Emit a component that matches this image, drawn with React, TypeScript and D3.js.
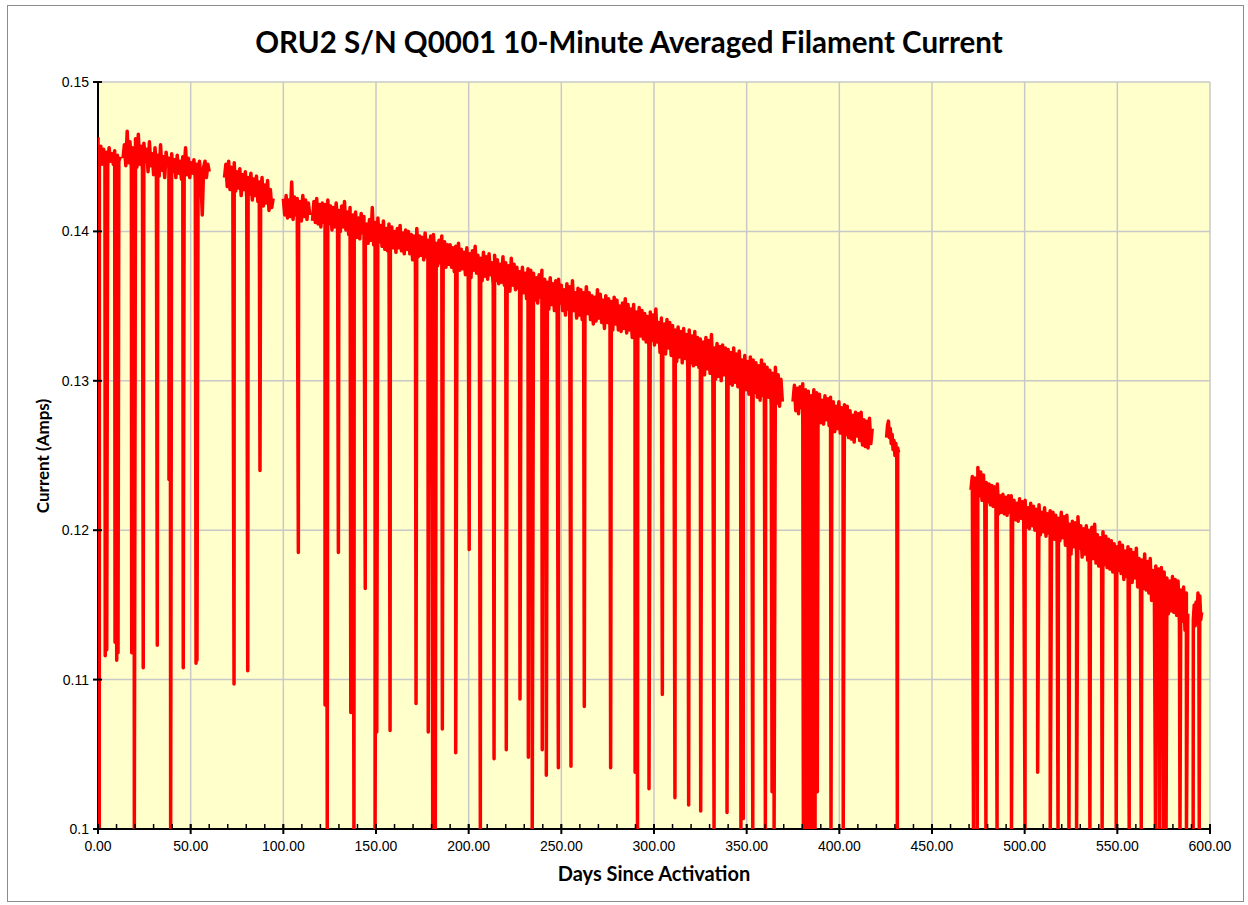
import React, { useEffect, useRef } from 'react';
import * as d3 from 'd3';

// axis ticks
const xTicks = [0, 50, 100, 150, 200, 250, 300, 350, 400, 450, 500, 550, 600];
const xTickLabels = ['0.00', '50.00', '100.00', '150.00', '200.00', '250.00', '300.00', '350.00', '400.00', '450.00', '500.00', '550.00', '600.00'];
const xMinorTicks = d3.range(0, 601, 10);
const yTicks = [0.1, 0.11, 0.12, 0.13, 0.14, 0.15];
const yTickLabels = ['0.1', '0.11', '0.12', '0.13', '0.14', '0.15'];

// filament current (amps), one reading every segSteps[k] days from segStarts[k]
const segA = [
  0.1463, 0.1450, 0.1457, 0.1445, 0.1455, 0.1448, 0.1453, 0.1444, 0.1456, 0.1447,
  0.1452, 0.1445, 0.1454, 0.1446, 0.1451, 0.1447, 0.1450, null, 0.1449, 0.1458,
  0.1444, 0.1467, 0.1446, 0.1460, 0.1442, 0.1456, 0.1448, 0.1462, 0.1443, 0.1465,
  0.1445, 0.1457, 0.1441, 0.1459, 0.1447, 0.1455, 0.1440, 0.1460, 0.1444, 0.1452,
  0.1438, 0.1456, 0.1443, 0.1451, 0.1437, 0.1458, 0.1441, 0.1450, 0.1436, 0.1453,
  0.1444, 0.1449, 0.1437, 0.1452, 0.1440, 0.1448, 0.1436, 0.1451, 0.1439, 0.1447,
  0.1435, 0.1450, 0.1441, 0.1456, 0.1438, 0.1449, 0.1436, 0.1446, 0.1439, 0.1448,
  0.1435, 0.1445, 0.1437, 0.1447, 0.1436, 0.1411, 0.1443, 0.1447, 0.1436, 0.1445,
  0.1440];
const segB = [
  0.1436, 0.1445, 0.1430, 0.1447, 0.1428, 0.1443, 0.1432, 0.1446, 0.1427, 0.1440,
  0.1429, 0.1442, 0.1424, 0.1438, 0.1428, 0.1440, 0.1423, 0.1436, 0.1425, 0.1439,
  0.1421, 0.1435, 0.1424, 0.1437, 0.1420, 0.1433, 0.1422, 0.1436, 0.1417, 0.1431,
  0.1419, 0.1434, 0.1414, 0.1428, 0.1416, 0.1422];
const segC = [
  0.1422, 0.1411, 0.1424, 0.1409, 0.1421, 0.1410, 0.1433, 0.1408, 0.1423, 0.1411,
  0.1422, 0.1409, 0.1420, 0.1407, 0.1424, 0.1410, 0.1421, 0.1408, 0.1419, 0.1411,
  null, 0.1407, 0.1420, 0.1406, 0.1422, 0.1405, 0.1418, 0.1403, 0.1419, 0.1406,
  0.1418, 0.1404, 0.1421, 0.1405, 0.1417, 0.1401, 0.1416, 0.1403, 0.1419, 0.1406,
  0.1414, 0.1400, 0.1417, 0.1403, 0.1420, 0.1401, 0.1413, 0.1398, 0.1416, 0.1402,
  0.1411, 0.1398, 0.1413, 0.1396, 0.1409, 0.1395, 0.1412, 0.1399, 0.1410, 0.1394,
  0.1405, 0.1392, 0.1408, 0.1394, 0.1416, 0.1391, 0.1406, 0.1390, 0.1409, 0.1393,
  0.1404, 0.1390, 0.1407, 0.1388, 0.1402, 0.1387, 0.1405, 0.1391, 0.1403, 0.1389,
  0.1400, 0.1386, 0.1402, 0.1389, 0.1404, 0.1387, 0.1399, 0.1385, 0.1401, 0.1388,
  0.1400, 0.1385, 0.1398, 0.1381, 0.1397, 0.1386, 0.1402, 0.1383, 0.1397, 0.1384,
  0.1396, 0.1381, 0.1399, 0.1383, 0.1394, 0.1380, 0.1397, 0.1384, 0.1398, 0.1382,
  0.1392, 0.1377, 0.1394, 0.1379, 0.1397, 0.1380, 0.1393, 0.1376, 0.1391, 0.1378,
  0.1391, 0.1376, 0.1389, 0.1373, 0.1390, 0.1377, 0.1392, 0.1374, 0.1388, 0.1375,
  0.1386, 0.1371, 0.1389, 0.1373, 0.1385, 0.1369, 0.1387, 0.1374, 0.1390, 0.1372,
  0.1384, 0.1369, 0.1382, 0.1367, 0.1386, 0.1370, 0.1383, 0.1368, 0.1385, 0.1371,
  0.1379, 0.1364, 0.1384, 0.1367, 0.1381, 0.1365, 0.1378, 0.1366, 0.1383, 0.1364,
  0.1379, 0.1363, 0.1377, 0.1360, 0.1382, 0.1364, 0.1378, 0.1361, 0.1376, 0.1362,
  0.1373, 0.1357, 0.1376, 0.1359, 0.1372, 0.1355, 0.1375, 0.1360, 0.1374, 0.1356,
  0.1372, 0.1354, 0.1369, 0.1352, 0.1371, 0.1356, 0.1374, 0.1353, 0.1368, 0.1354,
  0.1366, 0.1348, 0.1369, 0.1351, 0.1365, 0.1347, 0.1367, 0.1350, 0.1368, 0.1352,
  0.1364, 0.1347, 0.1361, 0.1344, 0.1365, 0.1348, 0.1363, 0.1345, 0.1367, 0.1347,
  0.1359, 0.1342, 0.1362, 0.1344, 0.1361, 0.1341, 0.1359, 0.1343, 0.1363, 0.1345,
  0.1359, 0.1341, 0.1357, 0.1338, 0.1356, 0.1340, 0.1361, 0.1342, 0.1358, 0.1339,
  0.1354, 0.1335, 0.1357, 0.1339, 0.1355, 0.1336, 0.1353, 0.1334, 0.1356, 0.1338,
  0.1354, 0.1334, 0.1350, 0.1333, 0.1352, 0.1335, 0.1355, 0.1332, 0.1351, 0.1334,
  0.1348, 0.1329, 0.1351, 0.1331, 0.1346, 0.1327, 0.1349, 0.1330, 0.1347, 0.1328,
  0.1345, 0.1326, 0.1343, 0.1323, 0.1346, 0.1327, 0.1344, 0.1324, 0.1348, 0.1326,
  0.1339, 0.1319, 0.1342, 0.1321, 0.1338, 0.1318, 0.1341, 0.1322, 0.1339, 0.1317,
  0.1337, 0.1315, 0.1334, 0.1313, 0.1336, 0.1316, 0.1333, 0.1312, 0.1335, 0.1315,
  0.1331, 0.1309, 0.1334, 0.1312, 0.1330, 0.1310, 0.1333, 0.1311, 0.1329, 0.1309,
  0.1328, 0.1307, 0.1326, 0.1304, 0.1329, 0.1308, 0.1327, 0.1305, 0.1331, 0.1307,
  0.1322, 0.1301, 0.1325, 0.1303, 0.1323, 0.1300, 0.1324, 0.1304, 0.1322, 0.1302,
  0.1321, 0.1298, 0.1319, 0.1297, 0.1322, 0.1299, 0.1318, 0.1296, 0.1320, 0.1300,
  0.1314, 0.1292, 0.1317, 0.1294, 0.1313, 0.1291, 0.1316, 0.1293, 0.1314, 0.1292,
  0.1312, 0.1289, 0.1310, 0.1287, 0.1314, 0.1290, 0.1311, 0.1288, 0.1309, 0.1289,
  0.1307, 0.1284, 0.1305, 0.1286, 0.1309, 0.1285, 0.1304, 0.1283, 0.1301, 0.1286];
const segD = [
  0.1286, 0.1297, 0.1280, 0.1295, 0.1278, 0.1296, 0.1282, 0.1298, 0.1279, 0.1294,
  0.1277, 0.1293, 0.1275, 0.1290, 0.1276, 0.1294, 0.1278, 0.1292, 0.1274, 0.1291,
  0.1272, 0.1287, 0.1271, 0.1290, 0.1274, 0.1288, 0.1270, 0.1289, 0.1273, 0.1286,
  0.1266, 0.1283, 0.1268, 0.1286, 0.1265, 0.1282, 0.1267, 0.1284, 0.1264, 0.1283,
  0.1262, 0.1280, 0.1261, 0.1277, 0.1259, 0.1279, 0.1263, 0.1278, 0.1260, 0.1279,
  0.1257, 0.1274, 0.1256, 0.1273, 0.1255, 0.1275, 0.1258, 0.1268];
const segE = [
  0.1262, 0.1270, 0.1273, 0.1262, 0.1268, 0.1258, 0.1264, 0.1254, 0.1260, 0.1250,
  0.1258, 0.1248, 0.1255, 0.1252];
const segF = [
  0.1227, 0.1236, 0.1222, 0.1235, 0.1221, 0.1242, 0.1223, 0.1239, 0.1220, 0.1237,
  0.1218, 0.1232, 0.1219, 0.1231, 0.1217, 0.1230, 0.1216, 0.1229, 0.1218, 0.1231,
  0.1211, 0.1223, 0.1212, 0.1224, 0.1211, 0.1222, 0.1210, 0.1223, 0.1212, 0.1223,
  0.1208, 0.1220, 0.1207, 0.1218, 0.1206, 0.1221, 0.1208, 0.1219, 0.1205, 0.1220,
  0.1202, 0.1215, 0.1201, 0.1218, 0.1203, 0.1216, 0.1200, 0.1214, 0.1202, 0.1217,
  0.1197, 0.1212, 0.1199, 0.1215, 0.1196, 0.1211, 0.1198, 0.1213, 0.1195, 0.1212,
  0.1194, 0.1210, 0.1191, 0.1208, 0.1193, 0.1212, 0.1195, 0.1209, 0.1190, 0.1210,
  0.1187, 0.1204, 0.1184, 0.1206, 0.1189, 0.1205, 0.1185, 0.1209, 0.1188, 0.1203,
  0.1182, 0.1201, 0.1184, 0.1203, 0.1180, 0.1200, 0.1183, 0.1202, 0.1181, 0.1204,
  0.1178, 0.1197, 0.1176, 0.1195, 0.1179, 0.1199, 0.1177, 0.1196, 0.1175, 0.1194,
  0.1174, 0.1193, 0.1172, 0.1191, 0.1170, 0.1189, 0.1173, 0.1192, 0.1171, 0.1190,
  0.1167, 0.1186, 0.1169, 0.1189, 0.1166, 0.1187, 0.1165, 0.1185, 0.1168, 0.1188,
  0.1162, 0.1181, 0.1159, 0.1180, 0.1161, 0.1184, 0.1160, 0.1179, 0.1158, 0.1181,
  0.1153, 0.1173, 0.1154, 0.1176, 0.1151, 0.1174, 0.1155, 0.1175, 0.1152, 0.1172,
  0.1147, 0.1168, 0.1144, 0.1166, 0.1146, 0.1169, 0.1145, 0.1167, 0.1143, 0.1166,
  0.1138, 0.1160, 0.1139, 0.1162, 0.1133, 0.1158, 0.1144];
const segG = [0.1140, 0.1150, 0.1136, 0.1152, 0.1138, 0.1158, 0.1135, 0.1156, 0.1140, 0.1145];

const segStarts = [0, 68.25, 100, 375, 425.5, 471, 591];
const segSteps = [0.75, 0.75, 0.75, 0.75, 0.5, 0.75, 0.5];

// short drop-outs: [day, amps at the bottom of the drop]
const dips = [
  [0.7, 0.1], [3.9, 0.1116], [4.7, 0.112], [9.2, 0.1125], [10.1, 0.1113], [10.8, 0.1118],
  [18.2, 0.1118], [19.6, 0.1], [24.4, 0.1108], [32.0, 0.1123], [38.3, 0.1234], [39.2, 0.1],
  [46.0, 0.1108], [52.9, 0.1111], [53.4, 0.1113],
  [73.4, 0.1097], [80.8, 0.1106], [87.4, 0.124],
  [108.1, 0.1185], [122.5, 0.1083], [123.7, 0.1], [129.7, 0.1185], [136.4, 0.1078], [138.1, 0.1],
  [144.2, 0.1161], [149.5, 0.1], [150.4, 0.1065], [157.6, 0.1066], [171.6, 0.1084], [178.2, 0.1065],
  [180.6, 0.1], [182.0, 0.1], [185.8, 0.1067], [193.0, 0.1051], [200.3, 0.1187], [206.3, 0.1],
  [213.7, 0.1047], [220.3, 0.1053], [227.7, 0.1087], [232.2, 0.1048], [234.3, 0.1], [239.7, 0.1053],
  [241.9, 0.1036], [248.4, 0.1041], [255.2, 0.1042], [262.4, 0.1082], [276.6, 0.1041], [289.8, 0.1038],
  [291.1, 0.1], [297.3, 0.1027], [304.5, 0.109], [311.3, 0.1021], [318.7, 0.1016], [325.2, 0.1012],
  [332.4, 0.1], [339.4, 0.1011], [346.9, 0.1], [348.2, 0.1007], [353.3, 0.1], [360.1, 0.1],
  [363.7, 0.1025], [364.8, 0.1],
  [380.6, 0.1], [382.0, 0.1], [383.6, 0.1], [385.3, 0.1], [386.9, 0.1], [388.1, 0.1025],
  [395.5, 0.1], [402.1, 0.1],
  [431.3, 0.1],
  [472.4, 0.1], [474.4, 0.1], [479.1, 0.1], [485.1, 0.1], [492.9, 0.1], [500.2, 0.1],
  [507.0, 0.1038], [513.8, 0.1], [518.0, 0.1], [523.9, 0.1], [528.0, 0.1], [535.2, 0.1],
  [541.8, 0.1], [549.4, 0.1], [556.4, 0.1], [562.9, 0.1], [570.6, 0.1], [572.7, 0.1],
  [574.8, 0.1], [576.3, 0.1], [583.8, 0.1], [587.3, 0.1],
  [590.9, 0.1], [594.2, 0.1],
];

const W = 1248;
const H = 905;
const plot = { left: 98, right: 1210, top: 82, bottom: 829 };

export default function App() {
  const ref = useRef<SVGSVGElement>(null);

  useEffect(() => {
    const svg = d3.select(ref.current);
    svg.selectAll('*').remove();

    const x = d3.scaleLinear().domain([0, 600]).range([plot.left, plot.right]);
    const y = d3.scaleLinear().domain([0.1, 0.15]).range([plot.bottom, plot.top]);

    // chart frame
    svg.append('rect')
      .attr('x', 7.5).attr('y', 5.5)
      .attr('width', W - 12).attr('height', H - 9)
      .attr('fill', '#fff').attr('stroke', '#8c8c8c').attr('stroke-width', 1);

    svg.append('rect')
      .attr('x', plot.left).attr('y', plot.top)
      .attr('width', plot.right - plot.left).attr('height', plot.bottom - plot.top)
      .attr('fill', '#ffffcc');

    svg.append('clipPath').attr('id', 'plotclip')
      .append('rect')
      .attr('x', plot.left).attr('y', plot.top - 2)
      .attr('width', plot.right - plot.left).attr('height', plot.bottom - plot.top + 2);

    // grid
    svg.append('g').selectAll('line')
      .data(xTicks.slice(1))
      .enter().append('line')
      .attr('x1', d => x(d)).attr('x2', d => x(d))
      .attr('y1', plot.top).attr('y2', plot.bottom)
      .attr('stroke', '#c8c8c8').attr('stroke-width', 1.5);
    svg.append('g').selectAll('line')
      .data(yTicks.slice(1))
      .enter().append('line')
      .attr('x1', plot.left).attr('x2', plot.right)
      .attr('y1', d => y(d)).attr('y2', d => y(d))
      .attr('stroke', '#c8c8c8').attr('stroke-width', 1.5);

    // axes lines
    svg.append('line')
      .attr('x1', plot.left).attr('x2', plot.left)
      .attr('y1', plot.top).attr('y2', plot.bottom + 1)
      .attr('stroke', '#000').attr('stroke-width', 2);
    svg.append('line')
      .attr('x1', plot.left - 1).attr('x2', plot.right)
      .attr('y1', plot.bottom).attr('y2', plot.bottom)
      .attr('stroke', '#000').attr('stroke-width', 2);

    // series
    const segs = [segA, segB, segC, segD, segE, segF, segG];
    const line = d3.line<any>()
      .defined(d => d[1] != null)
      .x(d => x(d[0]))
      .y(d => y(d[1]));

    const g = svg.append('g').attr('clip-path', 'url(#plotclip)');
    segs.forEach((vals, k) => {
      const start = segStarts[k];
      const step = segSteps[k];
      const end = start + (vals.length - 1) * step;
      const pts: any[] = vals.map((v, i) => [start + i * step, v]);
      dips.filter(d => d[0] >= start - step && d[0] <= end + step)
        .forEach(d => pts.push([d[0], d[1]]));
      pts.sort((a, b) => a[0] - b[0]);
      g.append('path')
        .attr('d', line(pts))
        .attr('fill', 'none')
        .attr('stroke', '#ff0000')
        .attr('stroke-width', 3.5)
        .attr('stroke-linejoin', 'round');
    });

    // ticks
    svg.append('g').selectAll('line')
      .data(xMinorTicks)
      .enter().append('line')
      .attr('x1', d => x(d)).attr('x2', d => x(d))
      .attr('y1', plot.bottom - 5).attr('y2', plot.bottom)
      .attr('stroke', '#000').attr('stroke-width', 1.5);
    svg.append('g').selectAll('line')
      .data(xTicks)
      .enter().append('line')
      .attr('x1', d => x(d)).attr('x2', d => x(d))
      .attr('y1', plot.bottom - 5).attr('y2', plot.bottom + 5)
      .attr('stroke', '#000').attr('stroke-width', 2);
    svg.append('g').selectAll('line')
      .data(yTicks)
      .enter().append('line')
      .attr('x1', plot.left - 5).attr('x2', plot.left + 4)
      .attr('y1', d => y(d)).attr('y2', d => y(d))
      .attr('stroke', '#000').attr('stroke-width', 2);

    // tick labels
    svg.append('g').selectAll('text')
      .data(xTicks)
      .enter().append('text')
      .attr('x', d => x(d)).attr('y', plot.bottom + 22)
      .attr('text-anchor', 'middle')
      .attr('font-family', 'Liberation Sans, Arial, sans-serif')
      .attr('font-size', 14)
      .text((d, i) => xTickLabels[i]);
    svg.append('g').selectAll('text')
      .data(yTicks)
      .enter().append('text')
      .attr('x', plot.left - 9).attr('y', d => y(d) + 5)
      .attr('text-anchor', 'end')
      .attr('font-family', 'Liberation Sans, Arial, sans-serif')
      .attr('font-size', 14)
      .text((d, i) => yTickLabels[i]);

    // titles
    svg.append('text')
      .attr('x', 629).attr('y', 53)
      .attr('text-anchor', 'middle')
      .attr('font-family', 'Lato, sans-serif')
      .attr('font-weight', 'bold')
      .attr('font-size', 29.5)
      .text('ORU2 S/N Q0001 10-Minute Averaged Filament Current');
    svg.append('text')
      .attr('x', 654).attr('y', 881)
      .attr('text-anchor', 'middle')
      .attr('font-family', 'Lato, sans-serif')
      .attr('font-weight', 'bold')
      .attr('font-size', 20)
      .text('Days Since Activation');
    svg.append('text')
      .attr('transform', 'translate(49, 456) rotate(-90)')
      .attr('text-anchor', 'middle')
      .attr('font-family', 'Lato, sans-serif')
      .attr('font-weight', 'bold')
      .attr('font-size', 17)
      .text('Current (Amps)');
  }, []);

  return (
    <svg ref={ref} width={W} height={H}
      style={{ position: 'absolute', left: 0, top: 0, display: 'block' }} />
  );
}
